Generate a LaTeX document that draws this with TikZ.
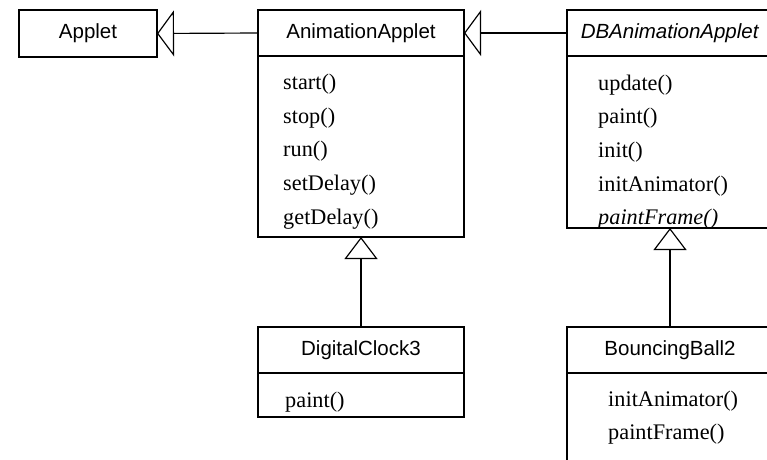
\documentclass[tikz,border=0pt]{standalone}
\usepackage{fontspec}
\setmainfont{Liberation Serif}
\setsansfont{Liberation Sans}
\usetikzlibrary{arrows.meta,positioning}

\tikzset{
	classname/.style={draw, line width=1pt, outer sep=0pt, inner sep=0pt, anchor=north west, minimum width=6.18cm, minimum height=1.38cm, font=\sffamily\fontsize{17.5}{21}\selectfont},
	classbody/.style={draw, line width=1pt, outer sep=0pt, inner sep=0pt, anchor=north west, minimum width=6.18cm},
	methods/.style={align=left, inner sep=0pt, anchor=north west, font=\fontsize{19}{28.8}\selectfont},
	inherit/.style n args={2}{-{Triangle[open, length=#1, width=#2]}, line width=1pt},
}

\begin{document}
\begin{tikzpicture}[x=0.03cm, y=-0.03cm]
	\path [use as bounding box, clip] (0,0) rectangle (767,460);
	\node [classname, minimum width=4.14cm, minimum height=1.41cm] (applet) at (19,10) {Applet};
	\node [classname] (anim) at (258,10) {AnimationApplet};
	\node [classbody, minimum height=5.43cm] (animbody) at (anim.south west) {};
	\node [methods, below right=0.53cm and 0.75cm of animbody.north west] (animops) {start()\\stop()\\run()\\setDelay()\\getDelay()};
	\node [classname] (dbanim) at (567,10) {\textit{DBAnimationApplet}};
	\node [classbody, minimum height=5.16cm] (dbbody) at (dbanim.south west) {};
	\node [methods, below right=0.55cm and 0.93cm of dbbody.north west] (dbops) {update()\\paint()\\init()\\initAnimator()\\\textit{paintFrame()}};
	\node [classname] (clock) at (258,327) {DigitalClock3};
	\node [classbody, minimum height=1.32cm] (clockbody) at (clock.south west) {};
	\node [methods, below right=0.55cm and 0.81cm of clockbody.north west] (clockops) {paint()};
	\node [classname] (ball) at (567,327) {BouncingBall2};
	\node [classbody, minimum height=3cm] (ballbody) at (ball.south west) {};
	\node [methods, below right=0.52cm and 1.23cm of ballbody.north west] (ballops) {initAnimator()\\paintFrame()};
	\draw [inherit={0.51cm}{1.38cm}] (anim.west) -- (applet.east);
	\draw [inherit={0.51cm}{1.38cm}] (dbanim.west) -- (anim.east);
	\draw [inherit={0.66cm}{0.99cm}] (clock.north) -- (animbody.south);
	\draw [inherit={0.66cm}{0.99cm}] (ball.north) -- (dbbody.south);
\end{tikzpicture}
\end{document}
